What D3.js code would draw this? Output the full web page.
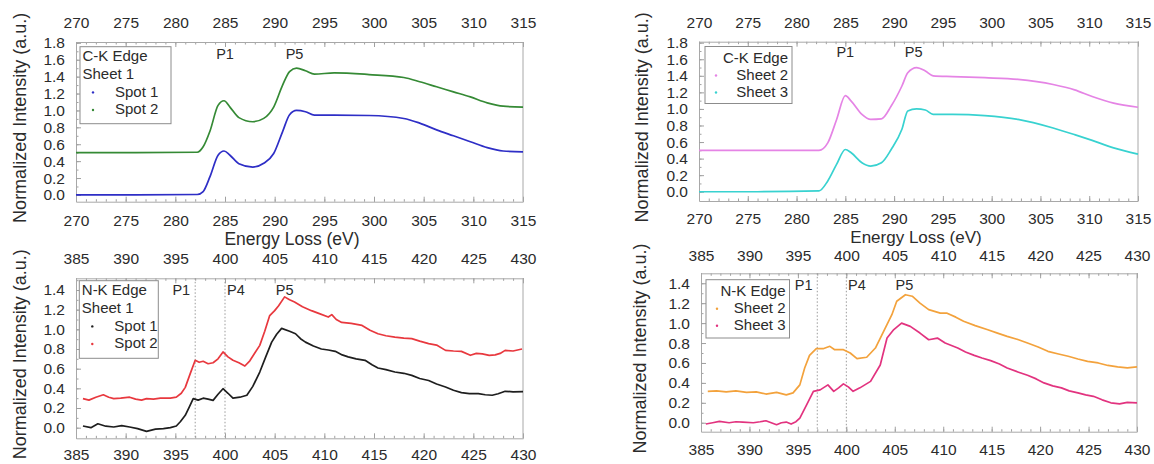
<!DOCTYPE html>
<html>
<head>
<meta charset="utf-8">
<script src="https://cdn.jsdelivr.net/npm/d3@7"></script>
<style>
body { margin: 0; background: #fff; }
svg text { font-family: "Liberation Sans", Arial, Helvetica, sans-serif; fill: #2b2b2b; }
</style>
</head>
<body>
<svg id="chart" width="1154" height="464"></svg>
<script>
// ---------- tick labels ----------
var ckXTicks = [270, 275, 280, 285, 290, 295, 300, 305, 310, 315];
var nkXTicks = [385, 390, 395, 400, 405, 410, 415, 420, 425, 430];
var ckYTicks = [0, 0.2, 0.4, 0.6, 0.8, 1.0, 1.2, 1.4, 1.6, 1.8];
var nkYTicks = [0, 0.2, 0.4, 0.6, 0.8, 1.0, 1.2, 1.4];

// ---------- peak markers ----------
var ckPeakNames = ['P1', 'P5'];
var ckPeakPos = [285, 292];
var nkPeakNames = ['P1', 'P4', 'P5'];
var nkPeakPos = [395.6, 401.1, 406];
var nkPeakLines = [397, 400];

// ---------- C-K edge, sheet 1 (spot 1 / spot 2) ----------
var ckE1 = [270, 276, 282.2, 282.8, 283.5, 284.3, 284.9, 285.5, 286.4, 287.8, 288.9, 289.9, 290.8, 291.5, 292.2, 293.1, 294.0, 296.0, 299.5, 303.0, 304.6, 306.3, 308.0, 309.7, 311.4, 313.0, 315];
var ckSpot1 = [0.0, 0.0, 0.005, 0.04, 0.22, 0.47, 0.52, 0.47, 0.37, 0.33, 0.375, 0.49, 0.75, 0.95, 1.0, 0.985, 0.945, 0.945, 0.94, 0.905, 0.85, 0.77, 0.70, 0.63, 0.56, 0.52, 0.51];
var ckSpot2 = [0.5, 0.5, 0.505, 0.57, 0.76, 1.06, 1.115, 1.04, 0.915, 0.866, 0.906, 1.04, 1.30, 1.46, 1.50, 1.47, 1.43, 1.445, 1.425, 1.39, 1.34, 1.28, 1.22, 1.16, 1.09, 1.05, 1.04];

// ---------- C-K edge, sheets 2 / 3 ----------
var ckE2 = [270, 276, 282.3, 283.2, 284.1, 285.0, 285.6, 286.7, 287.6, 288.7, 289.7, 290.8, 291.4, 292.3, 293.2, 294.0, 296.0, 299.3, 302.7, 306.3, 308.5, 310.3, 312.5, 315];
var ckSheet2 = [0.5, 0.5, 0.5, 0.59, 0.87, 1.16, 1.095, 0.935, 0.874, 0.88, 1.035, 1.277, 1.437, 1.50, 1.458, 1.40, 1.39, 1.377, 1.357, 1.295, 1.23, 1.15, 1.07, 1.02];
var ckSheet3 = [0.0, 0.0, 0.01, 0.13, 0.33, 0.51, 0.47, 0.35, 0.31, 0.35, 0.51, 0.754, 0.975, 1.0, 0.987, 0.935, 0.935, 0.92, 0.874, 0.77, 0.69, 0.62, 0.53, 0.455];

// ---------- N-K edge, sheet 1 ----------
var nkSpot1E = [385.7, 386.5, 387.2, 388.0, 388.8, 389.6, 390.4, 391.2, 392.1, 393.0, 393.8, 394.5, 395.1, 395.5, 396.0, 396.4, 396.8, 397.3, 397.8, 398.3, 398.8, 399.3, 399.8, 400.3, 400.8, 401.5, 402.2, 402.8, 403.5, 404.1, 404.7, 405.2, 405.7, 406.5, 407.1, 407.6, 408.1, 408.9, 409.7, 410.4, 411.1, 411.8, 412.4, 413.2, 414.1, 414.8, 415.4, 416.2, 417.1, 418.0, 418.8, 419.6, 420.5, 421.3, 422.2, 423.0, 423.8, 424.6, 425.5, 426.2, 426.9, 427.5, 428.2, 429.0, 430.0];
var nkSpot1 = [0.017, 0.0, 0.04, 0.015, 0.007, 0.02, 0.007, -0.01, -0.037, -0.015, -0.01, 0.0, 0.017, 0.06, 0.126, 0.21, 0.295, 0.28, 0.30, 0.29, 0.278, 0.34, 0.396, 0.35, 0.30, 0.31, 0.33, 0.42, 0.566, 0.72, 0.87, 0.95, 1.01, 0.98, 0.955, 0.905, 0.87, 0.83, 0.80, 0.79, 0.776, 0.74, 0.72, 0.70, 0.685, 0.64, 0.607, 0.59, 0.566, 0.553, 0.532, 0.50, 0.48, 0.444, 0.414, 0.38, 0.356, 0.346, 0.346, 0.335, 0.33, 0.345, 0.37, 0.365, 0.366];
var nkSpot2E = [385.7, 386.3, 387.0, 387.75, 388.3, 388.8, 389.5, 390.4, 391.0, 391.6, 392.1, 392.8, 393.5, 394.5, 395.1, 395.6, 396.0, 396.5, 397.0, 397.4, 397.8, 398.3, 398.8, 399.3, 399.8, 400.3, 400.8, 401.4, 402.0, 402.5, 403.0, 403.5, 404.0, 404.5, 405.0, 405.4, 406.0, 406.5, 407.0, 407.8, 408.7, 409.5, 410.4, 410.75, 411.2, 411.75, 412.7, 413.8, 414.6, 415.4, 416.2, 417.1, 418.0, 418.8, 419.6, 420.5, 421.3, 422.2, 423.0, 423.8, 424.7, 425.3, 425.9, 426.6, 427.2, 427.7, 428.2, 429.0, 429.9];
var nkSpot2 = [0.295, 0.28, 0.31, 0.335, 0.31, 0.295, 0.30, 0.31, 0.29, 0.28, 0.295, 0.29, 0.30, 0.30, 0.31, 0.35, 0.41, 0.55, 0.685, 0.665, 0.675, 0.65, 0.66, 0.70, 0.77, 0.72, 0.685, 0.66, 0.627, 0.68, 0.76, 0.837, 0.98, 1.14, 1.19, 1.24, 1.33, 1.30, 1.277, 1.23, 1.19, 1.16, 1.125, 1.15, 1.10, 1.07, 1.06, 1.04, 0.99, 0.955, 0.935, 0.92, 0.91, 0.905, 0.88, 0.855, 0.84, 0.786, 0.78, 0.776, 0.736, 0.755, 0.75, 0.735, 0.74, 0.755, 0.786, 0.78, 0.80];

// ---------- N-K edge, sheets 2 / 3 ----------
var nkSheet2E = [385.7, 386.6, 387.6, 388.6, 389.7, 390.7, 391.7, 392.8, 393.8, 394.5, 395.2, 395.7, 396.2, 396.9, 397.6, 398.3, 398.8, 399.7, 400.4, 401.1, 402.1, 403.0, 403.85, 404.7, 405.2, 406.1, 406.8, 407.6, 408.5, 409.7, 410.4, 411.3, 412.1, 413.3, 414.6, 415.6, 416.6, 417.7, 418.7, 419.8, 420.8, 421.9, 422.9, 423.9, 424.9, 426.0, 427.0, 428.0, 429.0, 430.0];
var nkSheet2 = [0.315, 0.32, 0.31, 0.32, 0.305, 0.31, 0.288, 0.305, 0.28, 0.30, 0.38, 0.55, 0.676, 0.743, 0.743, 0.767, 0.733, 0.733, 0.70, 0.643, 0.657, 0.75, 0.917, 1.084, 1.22, 1.285, 1.27, 1.20, 1.135, 1.10, 1.10, 1.06, 1.018, 0.975, 0.934, 0.90, 0.867, 0.835, 0.80, 0.76, 0.717, 0.69, 0.667, 0.64, 0.616, 0.60, 0.575, 0.56, 0.55, 0.56];
var nkSheet3E = [385.5, 386.2, 386.9, 387.9, 388.6, 389.3, 390.4, 391.1, 391.7, 392.8, 393.3, 393.8, 394.3, 394.8, 395.2, 395.9, 396.6, 397.3, 398.1, 398.7, 399.2, 399.7, 400.2, 400.7, 401.4, 402.5, 403.5, 404.2, 404.9, 405.7, 406.6, 407.6, 408.5, 409.4, 410.2, 411.5, 412.3, 413.2, 414.0, 414.9, 415.8, 416.6, 417.7, 418.7, 419.6, 420.4, 421.3, 422.2, 423.0, 423.9, 424.7, 425.5, 426.4, 427.3, 428.2, 429.0, 430.0];
var nkSheet3 = [-0.013, 0.0, 0.013, 0.0, 0.01, 0.007, 0.0, 0.01, 0.02, -0.02, 0.0, 0.007, -0.013, 0.01, 0.047, 0.18, 0.315, 0.33, 0.38, 0.315, 0.35, 0.39, 0.36, 0.315, 0.35, 0.415, 0.58, 0.85, 0.935, 1.0, 0.967, 0.90, 0.833, 0.85, 0.80, 0.75, 0.71, 0.676, 0.65, 0.623, 0.59, 0.55, 0.51, 0.476, 0.44, 0.40, 0.37, 0.35, 0.32, 0.30, 0.28, 0.265, 0.23, 0.20, 0.19, 0.205, 0.20];

var svg = d3.select('#chart');
var FONT = '"Liberation Sans", Arial, Helvetica, sans-serif';

// panel layout (pixels) -- data above, positions here
var panels = [
  { left: 76, right: 523, top: 42, bottom: 201.7, yDom: [-0.08, 1.81], topPad: 14, botPad: 13,
    xTicks: ckXTicks, yTicks: ckYTicks, smooth: true,
    titleX: 20, eTitle: [292, 239, 17.5], peakY: 54, peakNames: ckPeakNames, peakPos: ckPeakPos, lines: [],
    legend: { x: 80, y: 46.7, w: 91, h: 77, align: 'start', head: ['C-K Edge', 'Sheet 1'], names: ['Spot 1', 'Spot 2'] },
    series: [ { e: ckE1, v: ckSpot1, color: '#2e2ec6' }, { e: ckE1, v: ckSpot2, color: '#358a35' } ] },
  { left: 699, right: 1138, top: 41.7, bottom: 201, yDom: [-0.112, 1.812], topPad: 14, botPad: 12,
    xTicks: ckXTicks, yTicks: ckYTicks, smooth: true,
    titleX: 642, eTitle: [916, 237, 17], peakY: 52, peakNames: ckPeakNames, peakPos: ckPeakPos, lines: [],
    legend: { x: 705, y: 46.5, w: 87, h: 57, align: 'end', head: ['C-K Edge'], names: ['Sheet 2', 'Sheet 3'] },
    series: [ { e: ckE2, v: ckSheet2, color: '#e584e5' }, { e: ckE2, v: ckSheet3, color: '#38d2d0' } ] },
  { left: 76, right: 523, top: 278.3, bottom: 438.3, yDom: [-0.108, 1.519], topPad: 14, botPad: 11,
    xTicks: nkXTicks, yTicks: nkYTicks, smooth: false,
    titleX: 20, eTitle: null, peakY: 289.5, peakNames: nkPeakNames, peakPos: nkPeakPos, lines: nkPeakLines,
    legend: { x: 79.3, y: 280.7, w: 79, h: 77.6, align: 'start', head: ['N-K Edge', 'Sheet 1'], names: ['Spot 1', 'Spot 2'] },
    series: [ { e: nkSpot1E, v: nkSpot1, color: '#1e1e1e' }, { e: nkSpot2E, v: nkSpot2, color: '#e8383e' } ] },
  { left: 701, right: 1137, top: 273.3, bottom: 431.7, yDom: [-0.09, 1.5], topPad: 12, botPad: 12,
    xTicks: nkXTicks, yTicks: nkYTicks, smooth: false,
    titleX: 640, eTitle: null, peakY: 285, peakNames: nkPeakNames, peakPos: nkPeakPos, lines: nkPeakLines,
    legend: { x: 706, y: 279.7, w: 83.5, h: 58.3, align: 'end', head: ['N-K Edge'], names: ['Sheet 2', 'Sheet 3'] },
    series: [ { e: nkSheet2E, v: nkSheet2, color: '#f3a23c' }, { e: nkSheet3E, v: nkSheet3, color: '#e2337f' } ] }
];

function styleAxis(sel, fs) {
  sel.attr('font-family', FONT).attr('font-size', fs);
  sel.selectAll('.domain').attr('stroke', '#a8a8a8');
  sel.selectAll('.tick line').attr('stroke', '#a0a0a0');
  sel.selectAll('.tick text').attr('fill', '#2b2b2b');
}

panels.forEach(function (p) {
  var xDom = [p.xTicks[0], p.xTicks[p.xTicks.length - 1]];
  var x = d3.scaleLinear().domain(xDom).range([p.left, p.right]);
  var y = d3.scaleLinear().domain(p.yDom).range([p.bottom, p.top]);
  var g = svg.append('g');

  var xMinor = d3.range(xDom[0], xDom[1] + 0.01, 1);
  var yMinor = d3.range(0, p.yDom[1], 0.1);

  // minor ticks (no labels)
  [['top', d3.axisTop, p.top], ['bottom', d3.axisBottom, p.bottom]].forEach(function (a) {
    var ax = g.append('g').attr('transform', 'translate(0,' + a[2] + ')')
      .call(a[1](x).tickValues(xMinor).tickSize(-2.5).tickFormat(''));
    ax.select('.domain').remove();
    styleAxis(ax, 15.5);
  });
  var yMin = g.append('g').attr('transform', 'translate(' + p.left + ',0)')
    .call(d3.axisLeft(y).tickValues(yMinor).tickSize(-2.5).tickFormat(''));
  yMin.select('.domain').remove();
  styleAxis(yMin, 15.5);

  // major ticks with labels
  var top = g.append('g').attr('transform', 'translate(0,' + p.top + ')')
    .call(d3.axisTop(x).tickValues(p.xTicks).tickSize(-5).tickSizeOuter(0).tickPadding(p.topPad).tickFormat(d3.format('d')));
  styleAxis(top, 15.5);
  var bot = g.append('g').attr('transform', 'translate(0,' + p.bottom + ')')
    .call(d3.axisBottom(x).tickValues(p.xTicks).tickSize(-5).tickSizeOuter(0).tickPadding(p.botPad).tickFormat(d3.format('d')));
  styleAxis(bot, 15.5);
  var left = g.append('g').attr('transform', 'translate(' + p.left + ',0)')
    .call(d3.axisLeft(y).tickValues(p.yTicks).tickSize(-5).tickSizeOuter(0).tickPadding(11).tickFormat(d3.format('.1f')));
  styleAxis(left, 15.5);
  g.append('line').attr('x1', p.right).attr('x2', p.right).attr('y1', p.top).attr('y2', p.bottom)
    .attr('stroke', '#a8a8a8');

  // dotted peak lines
  g.selectAll('.pline').data(p.lines).enter().append('line')
    .attr('x1', function (d) { return x(d); }).attr('x2', function (d) { return x(d); })
    .attr('y1', p.top).attr('y2', p.bottom)
    .attr('stroke', '#9a9a9a').attr('stroke-dasharray', '1.5,2');

  // series
  var line = d3.line()
    .x(function (d) { return x(d[0]); })
    .y(function (d) { return y(d[1]); })
    .curve(p.smooth ? d3.curveMonotoneX : d3.curveLinear);
  p.series.forEach(function (s) {
    var pts = s.e.map(function (e, i) { return [e, s.v[i]]; });
    g.append('path').datum(pts).attr('d', line)
      .attr('fill', 'none').attr('stroke', s.color).attr('stroke-width', 1.7)
      .attr('stroke-linejoin', 'round');
  });

  // peak labels
  g.selectAll('.plabel').data(p.peakNames).enter().append('text')
    .attr('x', function (d, i) { return x(p.peakPos[i]); })
    .attr('y', p.peakY).attr('dy', '0.35em')
    .attr('text-anchor', 'middle').attr('font-size', 14.5)
    .text(function (d) { return d; });

  // y title
  g.append('text')
    .attr('transform', 'translate(' + p.titleX + ',' + ((p.top + p.bottom) / 2 - 4) + ') rotate(-90)')
    .attr('text-anchor', 'middle').attr('dy', '0.35em').attr('font-size', 18)
    .text('Normalized Intensity (a.u.)');

  if (p.eTitle !== null) {
    g.append('text').attr('x', p.eTitle[0]).attr('y', p.eTitle[1]).attr('dy', '0.35em')
      .attr('text-anchor', 'middle').attr('font-size', p.eTitle[2]).text('Energy Loss (eV)');
  }

  // legend
  var L = p.legend;
  var lg = g.append('g');
  lg.append('rect').attr('x', L.x).attr('y', L.y).attr('width', L.w).attr('height', L.h)
    .attr('fill', '#fff').attr('stroke', '#8c8c8c').attr('stroke-width', 1);
  var rowH = L.align === 'start' ? 17.6 : 17;
  var row0 = L.align === 'start' ? 9.5 : 11;
  var rows = L.head.map(function (t) { return { t: t, marker: null }; })
    .concat(L.names.map(function (t, i) { return { t: t, marker: p.series[i].color }; }));
  rows.forEach(function (r, i) {
    var ry = L.y + row0 + i * rowH;
    var tx;
    if (L.align === 'start') tx = r.marker ? L.x + 35 : L.x + 2.5;
    else tx = L.x + L.w - 4;
    lg.append('text').attr('x', tx).attr('y', ry).attr('dy', '0.35em')
      .attr('text-anchor', L.align).attr('font-size', 15).text(r.t);
    if (r.marker) {
      lg.append('circle').attr('cx', L.x + (L.align === 'start' ? 13 : 11)).attr('cy', ry + 1)
        .attr('r', 1.2).attr('fill', r.marker);
    }
  });
});
</script>
</body>
</html>
